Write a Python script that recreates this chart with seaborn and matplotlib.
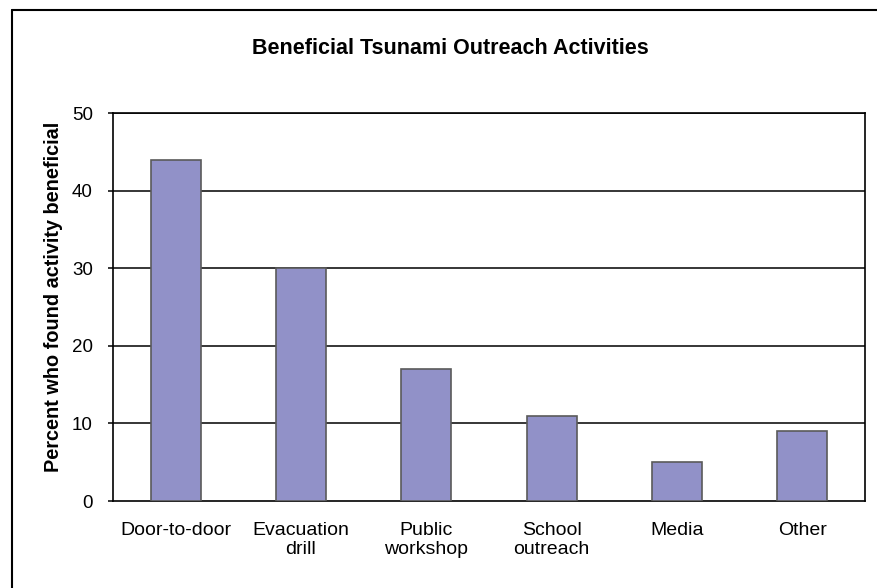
import matplotlib
matplotlib.use("Agg")
import matplotlib.pyplot as plt
import matplotlib.lines as mlines
import pandas as pd
import seaborn as sns

# --- dados ---
atividades = ["Door-to-door", "Evacuation\ndrill", "Public\nworkshop",
              "School\noutreach", "Media", "Other"]
percentuais = [44, 30, 17, 11, 5, 9]
yticks = [0, 10, 20, 30, 40, 50]

df = pd.DataFrame({"Atividade": atividades, "Percent": percentuais})

sns.set_style("white")
plt.rcParams["font.family"] = ["Liberation Sans", "DejaVu Sans"]
plt.rcParams["text.color"] = "black"
plt.rcParams["xtick.color"] = "black"
plt.rcParams["ytick.color"] = "black"
plt.rcParams["axes.labelcolor"] = "black"

fig = plt.figure(figsize=(8.77, 5.88), dpi=100)
ax = fig.add_axes([113 / 877, 1 - 501 / 588, (865 - 113) / 877, (501 - 113) / 588])

sns.barplot(data=df, x="Atividade", y="Percent", color="#9191C8",
            saturation=1, width=0.4, edgecolor="#5a5a5a", linewidth=1.2, ax=ax,
            zorder=3)

ax.set_ylim(0, 50)
ax.set_xlim(-0.5, len(atividades) - 0.5)
ax.set_yticks(yticks)
for v in yticks[1:]:
    ax.axhline(v, color="black", linewidth=1.1, zorder=1)

# ticks do eixo x entre as categorias
ax.set_xticks([i - 0.5 for i in range(len(atividades) + 1)], minor=True)
ax.tick_params(axis="x", which="major", length=0, pad=15, labelsize=14)
ax.tick_params(axis="x", which="minor", length=3.6, width=1.1, color="black", direction="out")
ax.tick_params(axis="y", which="major", length=3.6, width=1.1, color="black",
               direction="out", labelsize=13.5, left=True, pad=11)

for s in ax.spines.values():
    s.set_color("black")
    s.set_linewidth(1.2)

ax.set_xlabel("")
ax.set_ylabel("Percent who found activity beneficial", fontsize=14.3,
              fontweight="bold")
ax.yaxis.set_label_coords(-0.066, 0.526)

fig.text(450 / 877, 1 - 48 / 588, "Beneficial Tsunami Outreach Activities",
         ha="center", va="center", fontsize=15.5, fontweight="bold")

# borda externa do grafico
fig.add_artist(mlines.Line2D([12 / 877, 12 / 877], [0, 1 - 10 / 588], color="black", linewidth=1.5))
fig.add_artist(mlines.Line2D([12 / 877, 1], [1 - 10 / 588, 1 - 10 / 588], color="black", linewidth=1.5))

fig.savefig("out.png", dpi=100)
